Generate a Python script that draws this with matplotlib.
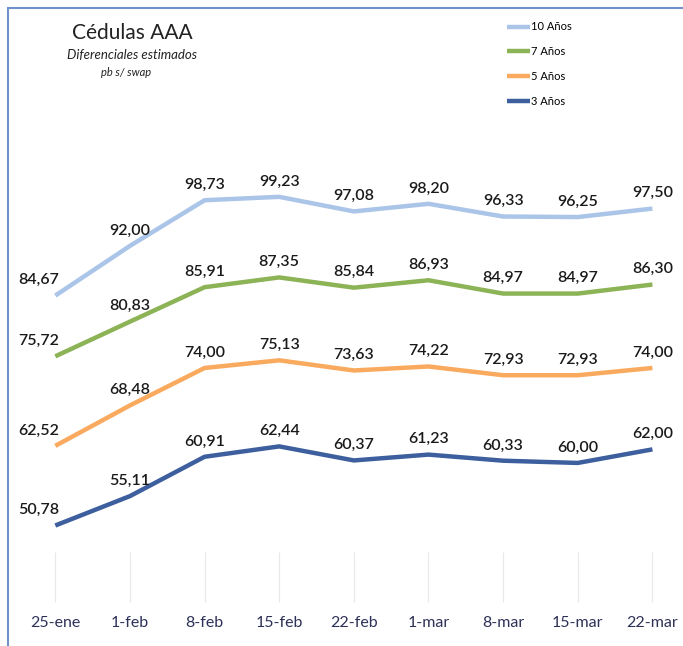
import matplotlib
matplotlib.use("Agg")
import matplotlib.pyplot as plt
from matplotlib.patches import Rectangle

# ----------------------------------------------------------------------------
# Data
# ----------------------------------------------------------------------------
DATES = ["25-ene", "1-feb", "8-feb", "15-feb", "22-feb",
         "1-mar", "8-mar", "15-mar", "22-mar"]
Y10 = [84.67, 92.00, 98.73, 99.23, 97.08, 98.20, 96.33, 96.25, 97.50]
Y7 = [75.72, 80.83, 85.91, 87.35, 85.84, 86.93, 84.97, 84.97, 86.30]
Y5 = [62.52, 68.48, 74.00, 75.13, 73.63, 74.22, 72.93, 72.93, 74.00]
Y3 = [50.78, 55.11, 60.91, 62.44, 60.37, 61.23, 60.33, 60.00, 62.00]

SERIES = [("10 Años", Y10, "#aac5e8"),
          ("7 Años", Y7, "#8cb356"),
          ("5 Años", Y5, "#f9aa5e"),
          ("3 Años", Y3, "#3d5f9e")]

plt.rcParams["font.family"] = ["Lato", "DejaVu Sans"]

W, H = 683, 646
fig = plt.figure(figsize=(W / 100, H / 100), dpi=100)

# frame of the original screenshot
fig.patches.append(Rectangle((8 / W, -0.02), 1.0, (H - 8) / H + 0.02,
                             transform=fig.transFigure, fill=False,
                             edgecolor="#6f92cc", lw=1.5))

ax = fig.add_axes([18 / W, (H - 602) / H, (W - 18) / W, 582 / H])
x = list(range(len(DATES)))

for name, vals, col in SERIES:
    ax.plot(x, vals, color=col, lw=3.2, solid_capstyle="butt", label=name)
    for i, v in enumerate(vals):
        dx = -12 if i == 0 else 0
        ax.annotate(f"{v:.2f}".replace(".", ","), (i, v),
                    xytext=(dx, 6), textcoords="offset points",
                    ha="center", va="bottom", fontsize=11.5,
                    fontweight="semibold", color="#1a1a1a")

ax.set_xlim(-0.5, 8.41)
ax.set_ylim(39.5, 125.3)
ax.set_xticks(x)
ax.set_xticklabels(DATES)
ax.set_yticks([])
ax.tick_params(axis="x", direction="in", length=36, width=0.8,
               color="#e8e8e8", labelsize=11.5, labelcolor="#2e3158", pad=10)
for s in ax.spines.values():
    s.set_visible(False)

# titles
fig.text(132 / W, 1 - 33 / H, "Cédulas AAA", ha="center", va="center",
         fontsize=15, color="#222222")
fig.text(132 / W, 1 - 55 / H, "Diferenciales estimados", ha="center",
         va="center", fontsize=9.5, style="italic", color="#222222")
fig.text(126 / W, 1 - 73 / H, "pb s/ swap", ha="center", va="center",
         fontsize=8, style="italic", color="#222222")

fig.legend(loc="upper left", bbox_to_anchor=(503 / W, 1 - 17 / H),
           frameon=False, fontsize=8, handlelength=2.0, handletextpad=0.1,
           labelspacing=1.25, borderaxespad=0)

fig.savefig("out.png", dpi=100)
